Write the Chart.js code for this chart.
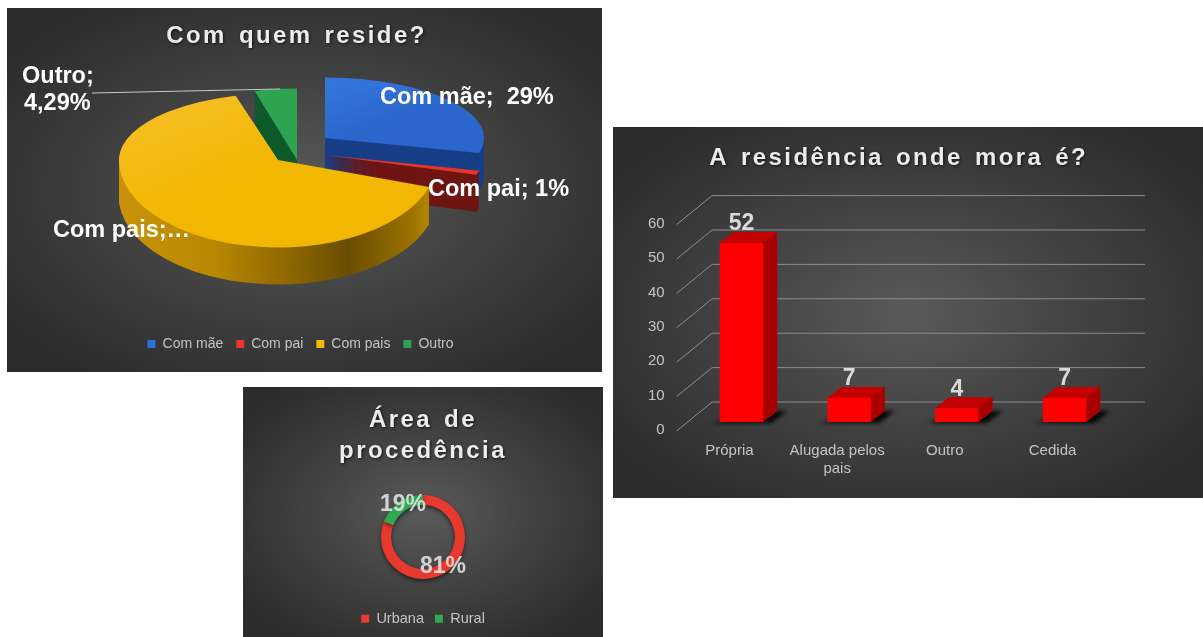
<!DOCTYPE html>
<html lang="pt">
<head>
<meta charset="utf-8">
<title>Gráficos</title>
<script src="https://cdn.jsdelivr.net/npm/chart.js@4"></script>
<style>
html,body{margin:0;padding:0;background:#fff;width:1203px;height:637px;overflow:hidden}
.panel{position:absolute;background:radial-gradient(ellipse 62% 62% at 50% 50%,#5a5a5a 0%,#444 45%,#2c2c2c 100%)}
canvas{display:block;filter:blur(.4px)}
</style>
</head>
<body>
<div class="panel" style="left:7px;top:8px;width:595px;height:364px"><canvas id="pie" width="595" height="364"></canvas></div>
<div class="panel" style="left:613px;top:127px;width:590px;height:371px"><canvas id="bar" width="590" height="371"></canvas></div>
<div class="panel" style="left:243px;top:387px;width:360px;height:250px"><canvas id="donut" width="360" height="250"></canvas></div>
<script>
// ---- data ----
const pieCategories = ['Com mãe', 'Com pai', 'Com pais', 'Outro'];
const pieValues = [29, 1, 65.71, 4.29];
const pieLabelTexts = ['Com mãe;  29%', 'Com pai; 1%', 'Com pais;…', ['Outro;', '4,29%']];
const barCategories = ['Própria', ['Alugada pelos', 'pais'], 'Outro', 'Cedida'];
const barValues = [52, 7, 4, 7];
const barTicks = [0, 10, 20, 30, 40, 50, 60];
const donutCategories = ['Urbana', 'Rural'];
const donutValues = [81, 19];

// ---- styles ----
const FONT = '"Liberation Sans", Arial, sans-serif';
const GREY = '#c4c4c4';
const pieColors = ['#2f6fd8', '#e8352b', '#f2b700', '#2fa450'];
const pieWalls = ['#173f87', '#6f1612', null, '#0f5a2a'];
const pieDepth = 37;
const piePanel = {x: 7, y: 8};
const pieRadius = 159;
// per-slice placement of the tilted 3D pie (page px), paint order below
const pieLayout = [
  {ax: 325, ay: 138, sTop: .38, sBot: .38},
  {ax: 325, ay: 155, sTop: .40, sBot: .40},
  {ax: 278, ay: 160, sTop: .42, sBot: .55},
  {ax: 297, ay: 160, sTop: .45, sBot: .45}
];
const pieOrder = [0, 1, 3, 2];
const pieLabelPos = [[380, 98], [428, 190], [53, 231], [22, 77]];

function titlePatch(shift, word) {
  return {
    id: 'titlePatch',
    beforeDraw(chart) {
      const t = chart.titleBlock;
      if (!t || t._patched) return;
      t._patched = true;
      const orig = t.draw;
      t.draw = function () {
        const c = chart.ctx;
        c.save();
        c.letterSpacing = '2.4px';
        c.wordSpacing = word + 'px';
        c.shadowColor = 'rgba(0,0,0,.65)';
        c.shadowBlur = 3;
        c.shadowOffsetX = 1;
        c.shadowOffsetY = 1;
        c.translate(shift, 0);
        orig.call(this);
        c.restore();
      };
    }
  };
}

function withOptions(arc, color, fn) {
  const saved = arc.options;
  arc.options = Object.assign(Object.create(saved), {backgroundColor: color, borderColor: color});
  fn();
  arc.options = saved;
}

function paintArc(ctx, chart, arc, tx, ty, sTop, sBot) {
  const W = chart.width, H = chart.height;
  [[0, ty, sTop], [ty, H - ty, sBot]].forEach(([y0, h, s]) => {
    ctx.save();
    ctx.beginPath();
    ctx.rect(0, y0, W, h);
    ctx.clip();
    ctx.translate(tx, ty);
    ctx.scale(1, s);
    ctx.translate(-arc.x, -arc.y);
    arc.draw(ctx);
    ctx.restore();
  });
}

const pie3D = {
  id: 'pie3D',
  beforeDatasetDraw(chart, args) {
    const ctx = chart.ctx;
    const arcs = args.meta.data;
    pieOrder.forEach(i => {
      const arc = arcs[i], L = pieLayout[i];
      const tx = L.ax - piePanel.x, ty = L.ay - piePanel.y;
      let wall = pieWalls[i];
      if (!wall) {
        wall = ctx.createLinearGradient(arc.x - pieRadius, 0, arc.x + pieRadius, 0);
        wall.addColorStop(0, '#c8930a');
        wall.addColorStop(.3, '#b98800');
        wall.addColorStop(.72, '#6a4d00');
        wall.addColorStop(.92, '#9a7200');
        wall.addColorStop(1, '#c39000');
      }
      withOptions(arc, wall, () => {
        for (let k = pieDepth; k >= 1; k--) paintArc(ctx, chart, arc, tx, ty + k, L.sTop, L.sBot);
      });
      let top = pieColors[i];
      if (i === 0 || i === 2) {
        top = ctx.createLinearGradient(arc.x - pieRadius, arc.y - pieRadius, arc.x, arc.y + 20);
        top.addColorStop(0, i === 0 ? '#3f86ee' : '#f6c02c');
        top.addColorStop(1, i === 0 ? '#2a66cc' : '#f2b700');
      }
      withOptions(arc, top, () => paintArc(ctx, chart, arc, tx, ty, L.sTop, L.sBot));
    });
    return false;
  },
  afterDatasetsDraw(chart) {
    const ctx = chart.ctx;
    ctx.save();
    ctx.strokeStyle = '#c8c8c8';
    ctx.lineWidth = 1;
    ctx.beginPath();
    ctx.moveTo(92 - piePanel.x, 93 - piePanel.y);
    ctx.lineTo(280 - piePanel.x, 89 - piePanel.y);
    ctx.stroke();
    ctx.fillStyle = '#fff';
    ctx.font = 'bold 23.5px ' + FONT;
    ctx.textBaseline = 'middle';
    ctx.textAlign = 'left';
    pieLabelTexts.forEach((t, i) => {
      const [x, y] = pieLabelPos[i];
      if (Array.isArray(t)) {
        ctx.fillText(t[0], x - piePanel.x, y - piePanel.y);
        ctx.fillText(t[1], x + 2 - piePanel.x, y + 27 - piePanel.y);
      } else {
        ctx.fillText(t, x - piePanel.x, y - piePanel.y);
      }
    });
    ctx.restore();
  }
};

new Chart(document.getElementById('pie'), {
  type: 'pie',
  data: {labels: pieCategories, datasets: [{data: pieValues, backgroundColor: pieColors, borderWidth: 0, radius: pieRadius, clip: false}]},
  options: {
    responsive: false, animation: false,
    layout: {padding: {bottom: 11, right: 8}},
    plugins: {
      tooltip: {enabled: false},
      title: {display: true, text: 'Com quem reside?', color: '#ececec', font: {family: FONT, size: 24, weight: 'bold'}, padding: {top: 14, bottom: 10}},
      legend: {position: 'bottom', labels: {color: GREY, font: {family: FONT, size: 14}, boxWidth: 8, boxHeight: 8, padding: 13}}
    }
  },
  plugins: [pie3D, titlePatch(-4, 3)]
});

// ---- 3D column chart ----
const wallDX = 24.5, wallDY = 20, frontDX = 11, frontDY = 9, barDX = 14, barDY = 11;
const bar3D = {
  id: 'bar3D',
  beforeDatasetsDraw(chart) {
    const ctx = chart.ctx, y = chart.scales.y, a = chart.chartArea;
    ctx.save();
    ctx.strokeStyle = '#8c8c8c';
    ctx.lineWidth = 1;
    y.ticks.forEach(t => {
      const p = y.getPixelForValue(t.value);
      ctx.beginPath();
      ctx.moveTo(a.left - frontDX, p + frontDY);
      ctx.lineTo(a.left + wallDX, p - wallDY);
      ctx.lineTo(a.right + wallDX + 2, p - wallDY);
      ctx.stroke();
    });
    ctx.restore();
  },
  beforeDatasetDraw(chart, args) {
    const ctx = chart.ctx;
    args.meta.data.forEach(b => {
      const l = b.x - b.width / 2, r = b.x + b.width / 2;
      ctx.save();
      ctx.filter = 'blur(2px)';
      ctx.fillStyle = 'rgba(0,0,0,.9)';
      ctx.beginPath();
      ctx.moveTo(l - 9, b.base + 1);
      ctx.lineTo(r + 8, b.base + 1);
      ctx.lineTo(r + 24, b.base - barDY);
      ctx.lineTo(r, b.base - barDY);
      ctx.closePath();
      ctx.fill();
      ctx.restore();
      ctx.fillStyle = '#c40000';
      ctx.beginPath();
      ctx.moveTo(l, b.y); ctx.lineTo(r, b.y); ctx.lineTo(r + barDX, b.y - barDY); ctx.lineTo(l + barDX, b.y - barDY);
      ctx.closePath(); ctx.fill();
      ctx.fillStyle = '#a80000';
      ctx.beginPath();
      ctx.moveTo(r, b.y); ctx.lineTo(r + barDX, b.y - barDY); ctx.lineTo(r + barDX, b.base - barDY); ctx.lineTo(r, b.base);
      ctx.closePath(); ctx.fill();
    });
  },
  afterDatasetsDraw(chart) {
    const ctx = chart.ctx;
    ctx.save();
    ctx.fillStyle = '#d9d9d9';
    ctx.font = 'bold 23px ' + FONT;
    ctx.textAlign = 'center';
    ctx.textBaseline = 'middle';
    chart.getDatasetMeta(0).data.forEach((b, i) => ctx.fillText(String(barValues[i]), b.x, b.y - 19));
    ctx.restore();
  }
};

new Chart(document.getElementById('bar'), {
  type: 'bar',
  data: {labels: barCategories, datasets: [{data: barValues, backgroundColor: '#ff0000', borderWidth: 0, barPercentage: .404, categoryPercentage: 1}]},
  options: {
    responsive: false, animation: false,
    layout: {padding: {left: 0, right: 84.6, top: 0, bottom: 0}},
    plugins: {
      tooltip: {enabled: false}, legend: {display: false},
      title: {display: true, text: 'A residência onde mora é?', color: '#ececec', font: {family: FONT, size: 24, weight: 'bold'}, padding: {top: 17, bottom: 42.8}}
    },
    scales: {
      x: {
        grid: {display: false}, border: {display: false},
        ticks: {color: GREY, font: {family: FONT, size: 15}, labelOffset: -12, maxRotation: 0, autoSkip: false, padding: 12, align: 'center'},
        afterFit(s) { s.height = 76; }
      },
      y: {
        min: 0, max: 60, afterBuildTicks(s) { s.ticks = barTicks.map(v => ({value: v})); },
        grid: {display: false}, border: {display: false},
        ticks: {color: GREY, font: {family: FONT, size: 15}, labelOffset: 8, padding: 15},
        afterFit(s) { s.width = 74.6; }
      }
    }
  },
  plugins: [bar3D, titlePatch(33, 3)]
});

// ---- doughnut ----
const donutPanel = {x: 243, y: 387};
const donutLabelPos = [[443, 567], [403, 505]];
const donutText = {
  id: 'donutText',
  beforeDatasetDraw(chart) {
    const c = chart.ctx;
    c.save();
    c.shadowColor = 'rgba(0,0,0,.55)';
    c.shadowBlur = 4;
    c.shadowOffsetY = 2;
  },
  afterDatasetDraw(chart) { chart.ctx.restore(); },
  afterDatasetsDraw(chart) {
    const ctx = chart.ctx;
    ctx.save();
    ctx.fillStyle = 'rgba(225,225,225,.9)';
    ctx.font = 'bold 23px ' + FONT;
    ctx.textAlign = 'center';
    ctx.textBaseline = 'middle';
    donutValues.forEach((v, i) => ctx.fillText(v + '%', donutLabelPos[i][0] - donutPanel.x, donutLabelPos[i][1] - donutPanel.y));
    ctx.restore();
  }
};

new Chart(document.getElementById('donut'), {
  type: 'doughnut',
  data: {labels: donutCategories, datasets: [{data: donutValues, backgroundColor: ['#e8392f', '#2fa850'], borderWidth: 0, radius: 42, cutout: '76%', clip: false}]},
  options: {
    responsive: false, animation: false,
    layout: {padding: {bottom: 1}},
    plugins: {
      tooltip: {enabled: false},
      title: {display: true, text: ['Área de', 'procedência'], color: '#ececec', font: {family: FONT, size: 24, weight: 'bold', lineHeight: 1.3}, padding: {top: 18, bottom: 6}},
      legend: {position: 'bottom', labels: {color: GREY, font: {family: FONT, size: 14.5}, boxWidth: 8, boxHeight: 8, padding: 11}}
    }
  },
  plugins: [donutText, titlePatch(0, 3)]
});
</script>
</body>
</html>
